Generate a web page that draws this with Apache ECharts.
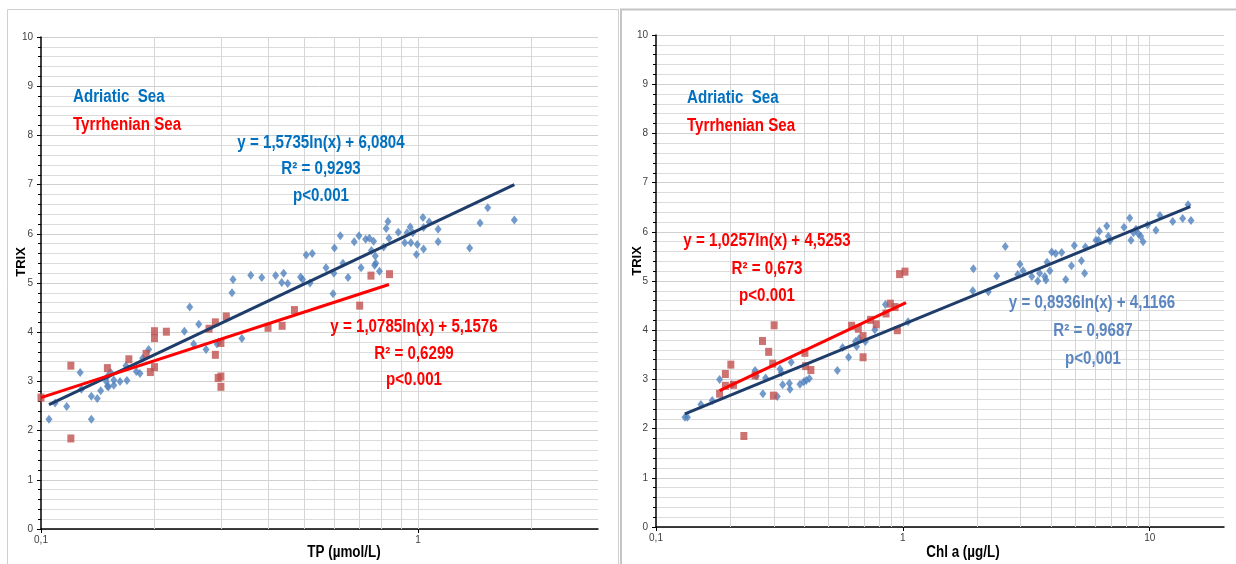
<!DOCTYPE html>
<html>
<head>
<meta charset="utf-8">
<script src="https://cdn.jsdelivr.net/npm/echarts@6/dist/echarts.min.js"></script>
<style>
  html, body { margin: 0; padding: 0; background: #fff; }
  #chart { width: 1236px; height: 564px; }
</style>
</head>
<body>
<div id="chart"></div>
<script>
// TP (µmol/L) vs TRIX
const tpAdriatic = [
    [0.105, 2.23], [0.109, 2.56], [0.117, 2.49], [0.127, 3.18], [0.128, 2.84], [0.136, 2.70],
    [0.136, 2.23], [0.141, 2.65], [0.144, 2.81], [0.149, 3.0], [0.150, 2.90], [0.151, 2.89],
    [0.150, 3.10], [0.153, 3.18], [0.156, 2.92], [0.156, 3.03], [0.162, 3.0], [0.169, 3.02],
    [0.168, 3.32], [0.179, 3.20], [0.183, 3.16], [0.186, 3.47], [0.193, 3.65], [0.240, 4.02],
    [0.248, 4.51], [0.254, 3.76], [0.262, 4.16], [0.274, 3.65], [0.293, 3.76], [0.296, 3.80],
    [0.321, 4.80], [0.323, 5.07], [0.341, 3.87], [0.360, 5.16], [0.385, 5.11], [0.419, 5.15],
    [0.435, 5.01], [0.440, 5.20], [0.451, 4.99], [0.488, 5.12], [0.494, 5.07], [0.505, 5.57],
    [0.524, 5.60], [0.517, 5.0], [0.570, 5.31], [0.595, 4.78], [0.598, 5.20], [0.600, 5.71],
    [0.622, 5.96], [0.632, 5.40], [0.652, 5.11], [0.677, 5.84], [0.697, 5.96], [0.706, 5.31],
    [0.726, 5.89], [0.743, 5.91], [0.752, 5.66], [0.762, 5.85], [0.767, 5.36], [0.770, 5.55],
    [0.772, 5.40], [0.790, 5.24], [0.810, 5.73], [0.823, 6.11], [0.832, 6.25], [0.837, 5.91],
    [0.886, 6.03], [0.922, 5.82], [0.935, 6.02], [0.953, 6.14], [0.957, 5.82], [0.968, 6.02],
    [0.990, 5.58], [0.995, 5.78], [1.03, 6.33], [1.034, 5.69], [1.034, 6.13], [1.07, 6.24],
    [1.13, 6.09], [1.13, 5.84], [1.37, 5.71], [1.46, 6.22], [1.53, 6.53], [1.80, 6.28]
];
const tpTyrrhenian = [
    [0.100, 2.67], [0.120, 3.32], [0.120, 1.84], [0.150, 3.27], [0.171, 3.45], [0.190, 3.56],
    [0.195, 3.19], [0.200, 3.29], [0.200, 4.02], [0.200, 3.88], [0.215, 4.01], [0.279, 4.07],
    [0.290, 4.20], [0.290, 3.54], [0.295, 3.07], [0.300, 3.10], [0.300, 2.89], [0.300, 3.78],
    [0.310, 4.32], [0.400, 4.09], [0.436, 4.13], [0.470, 4.45], [0.700, 4.54], [0.750, 5.15],
    [0.840, 5.18]
];
const tpAdriaticFit = [[0.105, 2.53], [1.80, 7.00]];
const tpTyrrhenianFit = [[0.100, 2.67], [0.837, 4.97]];

// Chl a (µg/L) vs TRIX
const chlAdriatic = [
    [0.131, 2.23], [0.134, 2.23], [0.152, 2.49], [0.169, 2.57], [0.181, 3.0], [0.203, 2.89],
    [0.252, 3.18], [0.255, 3.07], [0.271, 2.71], [0.278, 3.03], [0.310, 2.65], [0.318, 3.21],
    [0.322, 3.14], [0.326, 2.89], [0.347, 2.92], [0.349, 2.80], [0.353, 3.35], [0.383, 2.90],
    [0.397, 2.95], [0.406, 2.98], [0.418, 3.02], [0.543, 3.18], [0.570, 3.65], [0.603, 3.45],
    [0.643, 3.77], [0.650, 3.67], [0.665, 3.83], [0.705, 3.77], [0.770, 4.01], [0.850, 4.52],
    [1.05, 4.17], [1.93, 5.25], [1.92, 4.80], [2.22, 4.78], [2.40, 5.10], [2.60, 5.70],
    [2.92, 5.13], [2.98, 5.34], [3.07, 5.21], [3.33, 5.09], [3.52, 5.0], [3.58, 5.16],
    [3.76, 5.09], [3.80, 5.02], [3.84, 5.38], [3.94, 5.21], [4.01, 5.59], [4.16, 5.56],
    [4.40, 5.58], [4.57, 5.03], [4.82, 5.31], [4.95, 5.72], [5.29, 5.41], [5.45, 5.16],
    [5.49, 5.69], [6.06, 5.83], [6.25, 6.01], [6.20, 5.83], [6.70, 6.12], [6.80, 5.91],
    [6.90, 5.82], [7.87, 6.09], [8.30, 6.28], [8.40, 5.83], [8.60, 5.98], [8.80, 6.05],
    [9.00, 5.96], [9.20, 5.91], [9.40, 5.80], [9.80, 6.14], [10.6, 6.03], [11.0, 6.33],
    [12.4, 6.21], [13.6, 6.27], [14.3, 6.55], [14.7, 6.23]
];
const chlTyrrhenian = [
    [0.181, 2.71], [0.191, 3.11], [0.191, 2.87], [0.201, 3.30], [0.206, 2.89], [0.227, 1.85],
    [0.252, 3.08], [0.270, 3.78], [0.286, 3.56], [0.297, 3.32], [0.299, 2.67], [0.301, 4.10],
    [0.401, 3.54], [0.404, 3.27], [0.424, 3.19], [0.620, 4.09], [0.660, 4.03], [0.690, 3.88],
    [0.690, 3.45], [0.740, 4.21], [0.780, 4.12], [0.855, 4.34], [0.890, 4.54], [0.930, 4.47],
    [0.950, 4.00], [0.970, 5.14], [1.02, 5.19]
];
const chlAdriaticFit = [[0.131, 2.30], [14.6, 6.51]];
const chlTyrrhenianFit = [[0.181, 2.77], [1.03, 4.56]];

const tpGridLines = [0.2, 0.3, 0.4, 0.5, 0.6, 0.7, 0.8, 0.9, 1, 2];
const chlGridLines = [0.2, 0.3, 0.4, 0.5, 0.6, 0.7, 0.8, 0.9, 1, 2, 3, 4, 5, 6, 7, 8, 9, 10];
const yTicks = { min: 0, max: 10, interval: 1 };

const sans = '"Liberation Sans", Arial, sans-serif';
const blue = '#4f81bd';
const red = '#c0504d';

const chart = echarts.init(document.getElementById('chart'));

const xAxisBase = (idx, max) => ({
    type: 'log',
    logBase: 10,
    gridIndex: idx,
    min: 0.1,
    max: max,
    axisLine: { show: true, onZero: false, lineStyle: { color: '#000', width: 1.5 } },
    axisTick: { show: true, length: 4, lineStyle: { color: '#000' } },
    axisLabel: {
        color: '#404040', fontSize: 10, fontFamily: sans, margin: 6,
        showMaxLabel: false,
        formatter: v => String(v).replace('.', ',')
    },
    splitLine: { show: false }
});

const yAxisBase = idx => ({
    type: 'value',
    gridIndex: idx,
    min: yTicks.min,
    max: yTicks.max,
    interval: yTicks.interval,
    axisLine: { show: true, lineStyle: { color: '#000', width: 1.5 } },
    axisTick: { show: true, length: 4, lineStyle: { color: '#000' } },
    minorTick: { show: true, splitNumber: 5, length: 3, lineStyle: { color: '#000' } },
    axisLabel: { color: '#404040', fontSize: 10, fontFamily: sans, margin: 8 },
    splitLine: { show: true, lineStyle: { color: '#d0d0d0', width: 1 } },
    minorSplitLine: { show: true, lineStyle: { color: '#dcdcdc', width: 1 } }
});

// vertical grid lines at 2..9 of each decade
const vGrid = (idx, values) => ({
    type: 'line',
    xAxisIndex: idx,
    yAxisIndex: idx,
    data: [],
    silent: true,
    z: 1,
    markLine: {
        z: 1,
        silent: true,
        symbol: 'none',
        label: { show: false },
        lineStyle: { color: '#d6d6d6', width: 1, type: 'solid' },
        data: values.map(v => ({ xAxis: v }))
    }
});

const scatter = (idx, data, sym, size, color) => ({
    type: 'scatter',
    xAxisIndex: idx,
    yAxisIndex: idx,
    symbol: sym,
    symbolSize: size,
    itemStyle: { color: color },
    data: data,
    z: 3
});

const fit = (idx, data, color) => ({
    type: 'line',
    xAxisIndex: idx,
    yAxisIndex: idx,
    showSymbol: false,
    symbol: 'none',
    lineStyle: { color: color, width: 3 },
    data: data,
    z: 4
});

// narrow bold text (squeezed horizontally to look like the original condensed face)
const txt = (x, y, text, color, size, align) => ({
    type: 'text',
    x: x,
    y: y,
    z: 100,
    scaleX: 0.84,
    silent: true,
    style: {
        text: text,
        fill: color,
        font: 'bold ' + size + 'px ' + sans,
        textAlign: align || 'center',
        textVerticalAlign: 'middle'
    }
});

const option = {
    backgroundColor: '#fff',
    animation: false,
    grid: [
        { left: 41, top: 37, width: 557, height: 492 },
        { left: 656, top: 35, width: 568, height: 492 }
    ],
    xAxis: [xAxisBase(0, 3), xAxisBase(1, 20)],
    yAxis: [yAxisBase(0), yAxisBase(1)],
    series: [
        vGrid(0, tpGridLines),
        vGrid(1, chlGridLines),
        scatter(0, tpAdriatic, 'diamond', [7, 9], blue),
        scatter(0, tpTyrrhenian, 'rect', [7, 8], red),
        fit(0, tpAdriaticFit, '#1f3d6b'),
        fit(0, tpTyrrhenianFit, '#ff0000'),
        scatter(1, chlAdriatic, 'diamond', [7, 9], blue),
        scatter(1, chlTyrrhenian, 'rect', [7, 8], red),
        fit(1, chlAdriaticFit, '#1f3d6b'),
        fit(1, chlTyrrhenianFit, '#ff0000')
    ],
    graphic: [
        // panel frames
        { type: 'rect', z: 100, shape: { x: 7.5, y: 9.5, width: 611, height: 570 }, style: { fill: 'none', stroke: '#cfcfcf', lineWidth: 1 }, silent: true },
        { type: 'rect', z: 100, shape: { x: 621, y: 9.5, width: 630, height: 570 }, style: { fill: 'none', stroke: '#c4c4c4', lineWidth: 2 }, silent: true },
        // axis titles
        {
            type: 'text', x: 21, y: 262, z: 100, rotation: Math.PI / 2, silent: true,
            style: { text: 'TRIX', fill: '#000', font: 'bold 13px ' + sans, textAlign: 'center', textVerticalAlign: 'middle' }
        },
        {
            type: 'text', x: 637, y: 261, z: 100, rotation: Math.PI / 2, silent: true,
            style: { text: 'TRIX', fill: '#000', font: 'bold 13px ' + sans, textAlign: 'center', textVerticalAlign: 'middle' }
        },
        txt(344, 553, 'TP (µmol/L)', '#000', 16),
        txt(963, 553, 'Chl a (µg/L)', '#000', 16),
        // left legend and equations
        txt(73, 97, 'Adriatic  Sea', '#0070c0', 18, 'left'),
        txt(73, 125, 'Tyrrhenian Sea', '#ff0000', 18, 'left'),
        txt(321, 143, 'y = 1,5735ln(x) + 6,0804', '#0070c0', 18),
        txt(321, 169, 'R² = 0,9293', '#0070c0', 18),
        txt(321, 196, 'p<0.001', '#0070c0', 18),
        txt(414, 327, 'y = 1,0785ln(x) + 5,1576', '#ff0000', 18),
        txt(414, 354, 'R² = 0,6299', '#ff0000', 18),
        txt(414, 380, 'p<0.001', '#ff0000', 18),
        // right legend and equations
        txt(687, 98, 'Adriatic  Sea', '#0070c0', 18, 'left'),
        txt(687, 126, 'Tyrrhenian Sea', '#ff0000', 18, 'left'),
        txt(767, 241, 'y = 1,0257ln(x) + 4,5253', '#ff0000', 18),
        txt(767, 269, 'R² = 0,673', '#ff0000', 18),
        txt(767, 296, 'p<0.001', '#ff0000', 18),
        txt(1092, 303, 'y = 0,8936ln(x) + 4,1166', '#5b86c0', 18),
        txt(1093, 331, 'R² = 0,9687', '#5b86c0', 18),
        txt(1093, 359, 'p<0,001', '#5b86c0', 18)
    ]
};

chart.setOption(option);
window.addEventListener('resize', () => {
    chart.resize();
});
</script>
</body>
</html>
